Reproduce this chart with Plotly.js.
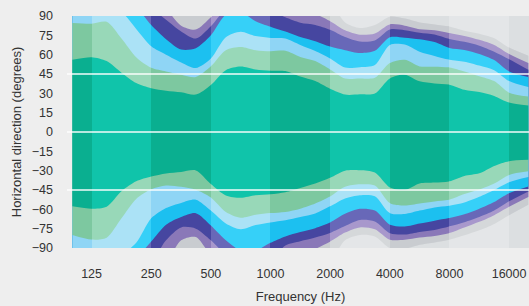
<!DOCTYPE html>
<html><head><meta charset="utf-8">
<script src="https://cdn.plot.ly/plotly-3.0.1.min.js"></script>
<style>html,body{margin:0;padding:0;background:#eeeeee;} #chart{width:529px;height:306px;}</style>
</head><body><div id="chart"></div>
<script>
// Frequency points (Hz), quarter-octave
const freq = [100,125,149,177,210,250,297,354,420,500,595,707,841,1000,1189,1414,1682,2000,2378,2828,3364,4000,4757,5657,6727,8000,9514,11314,13454,16000,20000];

// Upper (+) and lower (-) angle boundaries of each contour band (degrees)
const tealUpper   = [56,58,55,46,38,34,32,30.8,29,36.5,48,50.8,48.5,47.6,47.3,43,39.5,33.5,29,29.2,29.8,41.5,44.5,39.3,37.7,36.7,32.7,31,28,22.8,20.5];
const tealLower   = [-57.7,-59.5,-58,-46,-38.3,-34.6,-32.2,-31,-29.8,-40.3,-49.2,-51,-49,-48.3,-46.7,-43.4,-39.9,-35.5,-30,-29.7,-31.5,-43,-45,-39.9,-39.2,-38.3,-34.1,-32.1,-26.3,-22.6,-21.5];
const greenUpper  = [84.6,84,85.5,72.5,58,49.8,47,44.5,42.7,51,63.5,66,63.5,62.7,63,58.2,55,48.5,41.5,41.6,42,53.5,56,50.9,50.7,50.1,47,43.3,39.5,30.5,27.6];
const greenLower  = [-80,-83.5,-82,-67,-52,-44.5,-41.5,-42.5,-44.8,-50.8,-62,-66.5,-64.2,-62.9,-62,-59.5,-55.5,-50,-42.5,-40.6,-41.5,-55.1,-57,-55.4,-53.9,-52.5,-48.2,-44.7,-40,-33.3,-30.5];
const lightBlueUpper = [96,97,96,93,80,66.5,60,54,49.6,57,73.5,77.8,74.4,73,72.5,67.5,62.8,57,50,50.3,52,67.5,67.8,62.3,59,56.1,54.6,51.6,48,39.5,34.9];
const lightBlueLower = [-97,-97,-97,-95,-86,-67,-59,-55,-52.5,-61,-71,-75.5,-72.2,-70.2,-68.5,-66,-63.2,-57.6,-51.5,-49,-49.8,-62.9,-63.6,-61,-58.5,-57.2,-54.7,-50.3,-45,-39,-34.9];
const cyanUpper   = [100,100,100,98,96,83,72,64,65,75,91,93,86,81.7,78,73.7,70.5,66.3,63.5,61.3,63,73.5,73.2,71.9,69.8,65.2,63.6,60.5,55.8,47,42.7];
const cyanLower   = [-100,-100,-100,-100,-97,-85,-72,-66,-63,-72.5,-84,-92,-92,-86,-81,-77.6,-74.6,-70.2,-63.5,-59.6,-61,-71.9,-73.3,-71,-68.8,-66.7,-63.8,-59.5,-54.3,-47.5,-42.2];
const indigoUpper = [100,100,100,100,100,96,87,78,72.5,82,95,97,96,94,89,84.8,83.1,79.3,73.7,70.2,71,79.5,79,77.1,75.7,72.2,70,67,62.3,56.5,48.3];
const indigoLower = [-100,-100,-100,-100,-100,-100,-84,-74,-75,-84,-95,-100,-100,-100,-88,-84.7,-81.8,-78.3,-73,-68.3,-69.5,-78.5,-79.5,-77.5,-76,-73.2,-70,-66,-61,-53.8,-46.1];
const purpleUpper = [100,100,100,100,100,100,95,82.5,79.5,89,100,100,100,100,97,94,91.5,86,79,75.5,76.5,83.5,82.5,79.7,78.9,76.8,74.5,71.5,67.5,60.5,53.5];
const purpleLower = [-100,-100,-100,-100,-100,-100,-100,-84,-81.5,-95,-100,-100,-100,-100,-100,-100,-91,-85,-78,-74,-75.5,-83.6,-83.6,-81.9,-80.6,-78.4,-74.1,-69.7,-64.5,-58,-50.4];
const greyUpper   = [100,100,100,100,100,100,100,100,100,100,100,100,100,100,100,100,100,100,85,80.7,83,89.5,88,85,83.5,81.9,78.6,76.3,72.8,65.5,59.2];
const greyLower   = [-100,-100,-100,-100,-100,-100,-100,-100,-100,-100,-100,-100,-100,-100,-100,-100,-100,-100,-84,-79.9,-81,-90,-90.5,-87.5,-85.7,-83.6,-80.2,-76.3,-71.3,-64.5,-56.4];

const tickFreqs = [125,250,500,1000,2000,4000,8000,16000];
const tickFreqLabels = ['125','250','500','1000','2000','4000','8000','16000'];
const angleTicks = [90,75,60,45,30,15,0,-15,-30,-45,-60,-75,-90];
const refAngles = [45,0,-45];

// colours: [light octave stripe, dark octave stripe]
const outerColor  = ['#e4e6e8', '#dcdfe1'];
const bands = [
  {upper: greyUpper,      lower: greyLower,      color: ['#d5d8da', '#c9ccd0']},
  {upper: purpleUpper,    lower: purpleLower,    color: ['#a898cc', '#8a78b8']},
  {upper: indigoUpper,    lower: indigoLower,    color: ['#6868b8', '#4646a0']},
  {upper: cyanUpper,      lower: cyanLower,      color: ['#36d0f8', '#1cc0f0']},
  {upper: lightBlueUpper, lower: lightBlueLower, color: ['#abe2f6', '#8fd5f5']},
  {upper: greenUpper,     lower: greenLower,     color: ['#98d8b8', '#7dc8a0']},
  {upper: tealUpper,      lower: tealLower,      color: ['#10c4aa', '#0aaf90']}
];

function bandTraces(xaxisId, shade) {
  const out = [];
  bands.forEach(b => {
    const ln = {width: 0, shape: 'spline', smoothing: 0.8};
    out.push({x: freq, y: b.lower, xaxis: xaxisId, yaxis: 'y', mode: 'lines', line: ln, hoverinfo: 'skip', showlegend: false});
    out.push({x: freq, y: b.upper, xaxis: xaxisId, yaxis: 'y', mode: 'lines', fill: 'tonexty', fillcolor: b.color[shade], line: ln, hoverinfo: 'skip', showlegend: false});
  });
  return out;
}

const W = 529, H = 306, ML = 72, MR = 0, MT = 16, MB = 58;
const PW = W - ML - MR;
const xMin = 99.6, xMax = 20165;
const lgMin = Math.log10(xMin), lgMax = Math.log10(xMax);
const font = {family: 'Liberation Sans, Arial, sans-serif', size: 12.5, color: '#333'};
const titleFont = {family: 'Liberation Sans, Arial, sans-serif', size: 13, color: '#333'};

let traces = bandTraces('x', 0);
const shapes = [{type: 'rect', xref: 'paper', yref: 'paper', x0: 0, x1: 1, y0: 0, y1: 1, fillcolor: outerColor[0], line: {width: 0}, layer: 'below'}];
const layout = {
  width: W, height: H,
  margin: {l: ML, r: MR, t: MT, b: MB},
  paper_bgcolor: '#eeeeee', plot_bgcolor: 'rgba(0,0,0,0)',
  font: font,
  showlegend: false,
  xaxis: {type: 'log', range: [lgMin, lgMax], tickvals: tickFreqs, ticktext: tickFreqLabels,
    showgrid: false, zeroline: false, showline: false, ticks: '', ticklabelstandoff: 16,
    tickfont: font, title: {text: 'Frequency (Hz)', font: titleFont, standoff: 12}, fixedrange: true},
  yaxis: {range: [-90, 90], tickvals: angleTicks, showgrid: false, zeroline: false, showline: false, ticks: '',
    ticklabelstandoff: 18, tickfont: font, title: {text: 'Horizontal direction (degrees)', font: titleFont, standoff: 7}, fixedrange: true}
};

// darker octave stripes: separate hidden x axes covering alternate octaves,
// edges snapped to whole pixels, scale identical to the main axis
const edges = [xMin].concat(tickFreqs, [xMax]);
function snapDomain(f) {
  const px = Math.round(PW * (Math.log10(f) - lgMin) / (lgMax - lgMin));
  return px / PW;
}
let k = 2;
for (let i = 0; i < edges.length - 1; i += 2, k++) {
  const d0 = snapDomain(edges[i]), d1 = snapDomain(edges[i + 1]);
  const r0 = lgMin + d0 * (lgMax - lgMin), r1 = lgMin + d1 * (lgMax - lgMin);
  const id = 'x' + k;
  layout['xaxis' + k] = {type: 'log', range: [r0, r1], domain: [d0, d1], anchor: 'y', visible: false, fixedrange: true};
  shapes.push({type: 'rect', xref: 'paper', yref: 'paper', x0: d0, x1: d1, y0: 0, y1: 1, fillcolor: outerColor[1], line: {width: 0}, layer: 'below'});
  traces = traces.concat(bandTraces(id, 1));
}
refAngles.forEach(v => shapes.push({type: 'line', xref: 'paper', yref: 'y', x0: -0.011, x1: 1, y0: v, y1: v,
  line: {color: 'rgba(255,255,255,0.95)', width: 1.3}, layer: 'above'}));
layout.shapes = shapes;

Plotly.newPlot('chart', traces, layout, {staticPlot: true, displayModeBar: false});
</script></body></html>
